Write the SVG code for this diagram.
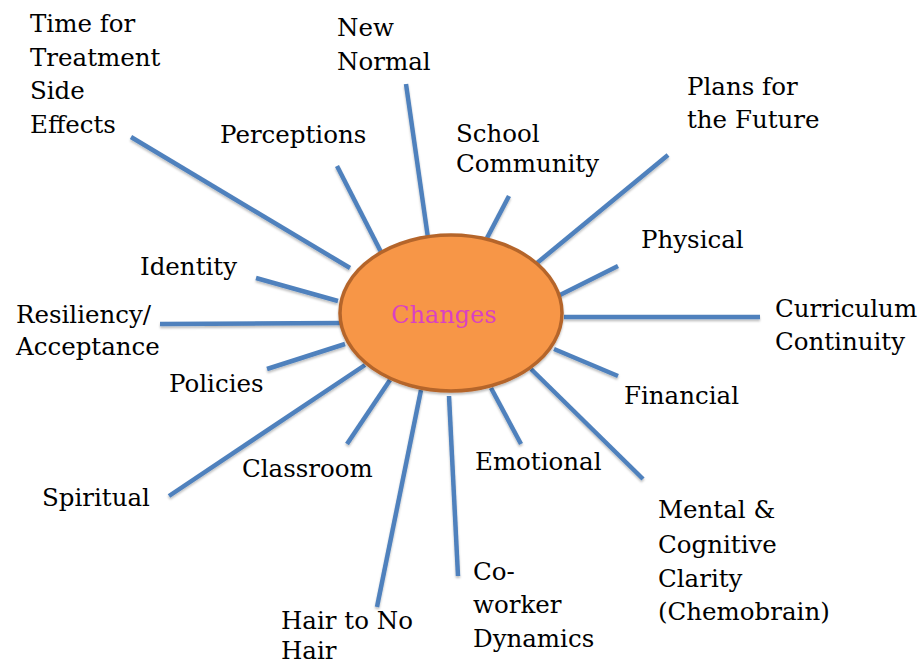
<svg xmlns="http://www.w3.org/2000/svg" width="919" height="665" viewBox="0 0 919 665">
  <defs>
    <filter id="soft" x="-10%" y="-10%" width="120%" height="120%">
      <feDropShadow dx="0" dy="2" stdDeviation="1.2" flood-color="#000" flood-opacity="0.25"/>
    </filter>
    <style>
      .spoke { stroke: #4f81bd; stroke-width: 4.5; fill: none; }
      .lbl { font-family: "DejaVu Serif", "Liberation Serif", serif; font-size: 24.5px; fill: #000; }
      .hub { fill: #f79646; stroke: #b5652b; stroke-width: 3.5; }
      .hubtext { font-family: "DejaVu Serif", "Liberation Serif", serif; font-size: 24px; fill: #d93fc4; }
    </style>
  </defs>
  <rect width="919" height="665" fill="#fff"/>

  <!-- spokes radiating from the hub -->
  <g id="connectors" filter="url(#soft)">
    <line class="spoke" x1="131" y1="137" x2="350" y2="268"/>
    <line class="spoke" x1="337" y1="166" x2="381" y2="252"/>
    <line class="spoke" x1="406" y1="84" x2="428" y2="238"/>
    <line class="spoke" x1="509" y1="196" x2="487" y2="238"/>
    <line class="spoke" x1="668" y1="155" x2="537" y2="263"/>
    <line class="spoke" x1="618" y1="266" x2="560" y2="295"/>
    <line class="spoke" x1="564" y1="317" x2="760" y2="317"/>
    <line class="spoke" x1="554" y1="349" x2="618" y2="376"/>
    <line class="spoke" x1="531" y1="369" x2="643" y2="479"/>
    <line class="spoke" x1="491" y1="388" x2="521" y2="444"/>
    <line class="spoke" x1="449" y1="396" x2="458" y2="576"/>
    <line class="spoke" x1="421" y1="390" x2="377" y2="607"/>
    <line class="spoke" x1="390" y1="380" x2="347" y2="444"/>
    <line class="spoke" x1="365" y1="365" x2="169" y2="496"/>
    <line class="spoke" x1="345" y1="344" x2="267" y2="369"/>
    <line class="spoke" x1="343" y1="323" x2="160" y2="324"/>
    <line class="spoke" x1="338" y1="301" x2="256" y2="278"/>
  </g>

  <g id="hub" filter="url(#soft)">
    <ellipse class="hub" cx="451" cy="313" rx="111" ry="78"/>
    <text class="hubtext" x="444" y="323" text-anchor="middle">Changes</text>
  </g>

  <g id="time-for-treatment">
    <text class="lbl" x="30" y="32">Time for</text>
    <text class="lbl" x="30" y="66">Treatment</text>
    <text class="lbl" x="30" y="99">Side</text>
    <text class="lbl" x="30" y="133">Effects</text>
  </g>
  <g id="new-normal">
    <text class="lbl" x="337" y="36">New</text>
    <text class="lbl" x="337" y="70">Normal</text>
  </g>
  <g id="perceptions"><text class="lbl" x="220" y="143">Perceptions</text></g>
  <g id="school-community">
    <text class="lbl" x="456" y="142">School</text>
    <text class="lbl" x="456" y="172">Community</text>
  </g>
  <g id="plans-for-the-future">
    <text class="lbl" x="687" y="95">Plans for</text>
    <text class="lbl" x="687" y="128">the Future</text>
  </g>
  <g id="physical"><text class="lbl" x="641" y="248">Physical</text></g>
  <g id="curriculum-continuity">
    <text class="lbl" x="775" y="317">Curriculum</text>
    <text class="lbl" x="775" y="350">Continuity</text>
  </g>
  <g id="financial"><text class="lbl" x="624" y="404">Financial</text></g>
  <g id="mental-cognitive-clarity">
    <text class="lbl" x="658" y="518">Mental &amp;</text>
    <text class="lbl" x="658" y="553">Cognitive</text>
    <text class="lbl" x="658" y="587">Clarity</text>
    <text class="lbl" x="658" y="620">(Chemobrain)</text>
  </g>
  <g id="emotional"><text class="lbl" x="475" y="470">Emotional</text></g>
  <g id="co-worker-dynamics">
    <text class="lbl" x="473" y="580">Co-</text>
    <text class="lbl" x="473" y="613">worker</text>
    <text class="lbl" x="473" y="647">Dynamics</text>
  </g>
  <g id="hair-to-no-hair">
    <text class="lbl" x="281" y="629">Hair to No</text>
    <text class="lbl" x="281" y="659">Hair</text>
  </g>
  <g id="classroom"><text class="lbl" x="242" y="477">Classroom</text></g>
  <g id="spiritual"><text class="lbl" x="42" y="506">Spiritual</text></g>
  <g id="policies"><text class="lbl" x="169" y="392">Policies</text></g>
  <g id="resiliency-acceptance">
    <text class="lbl" x="16" y="323">Resiliency/</text>
    <text class="lbl" x="16" y="355">Acceptance</text>
  </g>
  <g id="identity"><text class="lbl" x="140" y="275">Identity</text></g>
</svg>
